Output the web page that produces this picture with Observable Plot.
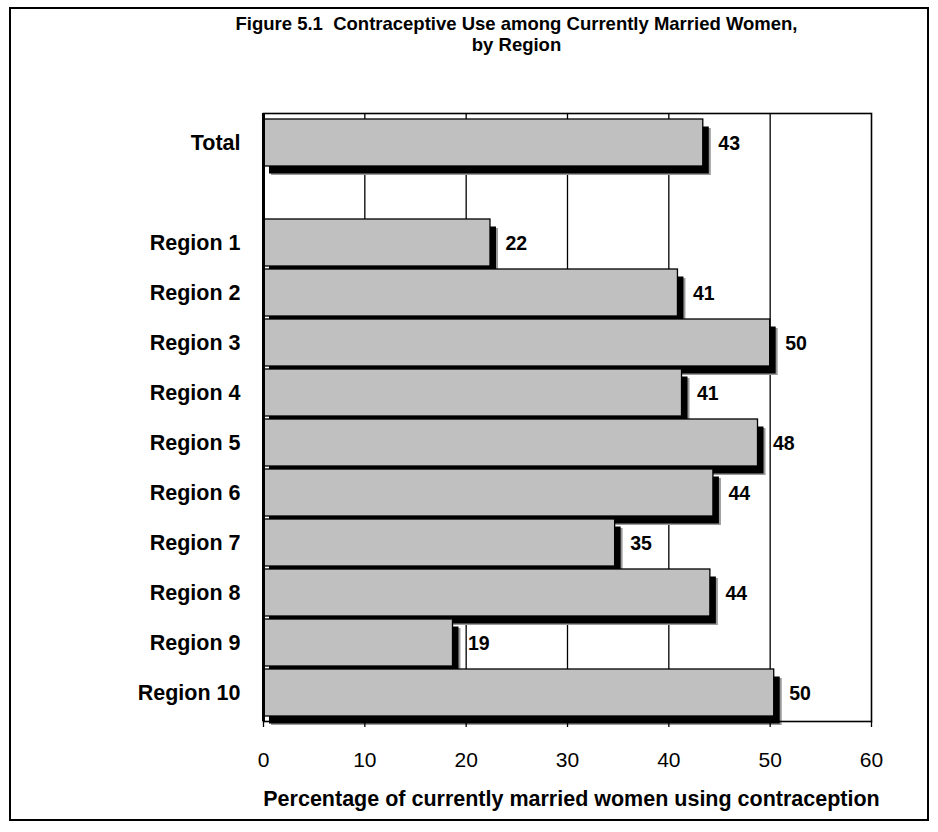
<!DOCTYPE html>
<html>
<head>
<meta charset="utf-8">
<script src="https://cdn.jsdelivr.net/npm/d3@7"></script>
<script src="https://cdn.jsdelivr.net/npm/@observablehq/plot@0.6"></script>
<style>
  html, body { margin: 0; padding: 0; background: white; }
  #wrap { position: relative; width: 938px; height: 832px; }
  #border { position: absolute; left: 9px; top: 7px; width: 920px; height: 814px; box-sizing: border-box; border: 2px solid black; pointer-events: none; }
</style>
</head>
<body>
<div id="wrap"><div id="border"></div></div>
<script>
const categories = ["Total", "Region 1", "Region 2", "Region 3", "Region 4", "Region 5", "Region 6", "Region 7", "Region 8", "Region 9", "Region 10"];
const values = [43.4, 22.4, 40.9, 50.0, 41.3, 48.8, 44.4, 34.7, 44.1, 18.7, 50.4];
const valueLabels = ["43", "22", "41", "50", "41", "48", "44", "35", "44", "19", "50"];
const yOrder = ["Total", " ", "Region 1", "Region 2", "Region 3", "Region 4", "Region 5", "Region 6", "Region 7", "Region 8", "Region 9", "Region 10"];
const xTicks = [0, 10, 20, 30, 40, 50, 60];
const gridValues = [10, 20, 30, 40, 50];
const titleText = "Figure 5.1  Contraceptive Use among Currently Married Women,\nby Region";
const xLabel = "Percentage of currently married women using contraception";

const data = categories.map((c, i) => ({cat: c, value: values[i], label: valueLabels[i]}));

const chart = Plot.plot({
  width: 938,
  height: 832,
  marginLeft: 263,
  marginRight: 67,
  marginTop: 113,
  marginBottom: 111,
  style: {fontFamily: "'Liberation Sans', Arial, sans-serif", fontSize: "16px", background: "transparent", color: "black"},
  x: {domain: [0, 60], ticks: xTicks, label: null},
  y: {domain: yOrder, paddingInner: 0.07, paddingOuter: 0.05, label: null},
  marks: [
    Plot.ruleX(gridValues, {stroke: "black", strokeWidth: 1.3}),
    Plot.barX(data, {x: "value", y: "cat", fill: "#9a9a9a", dx: 8, dy: 9}),
    Plot.barX(data, {x: "value", y: "cat", fill: "black", dx: 6, dy: 7.5}),
    Plot.barX(data, {x: "value", y: "cat", fill: "#c0c0c0", stroke: "black", strokeWidth: 1.3}),
    Plot.frame({stroke: "black", strokeWidth: 1.6}),
    Plot.ruleX([0], {stroke: "black", strokeWidth: 3}),
    Plot.axisX({ticks: xTicks, tickSize: 6, tickPadding: 25, fontSize: 21, label: null, stroke: "black", strokeWidth: 1.3}),
    Plot.axisY({tickSize: 0, tickPadding: 23, fontSize: 21.5, fontWeight: "bold", label: null}),
    Plot.text(data, {x: "value", y: "cat", text: "label", dx: 15, dy: 1, textAnchor: "start", fontSize: 19.5, fontWeight: "bold"}),
    Plot.text([titleText], {frameAnchor: "top", dx: -51, dy: -80, lineAnchor: "middle", lineHeight: 1.12, fontSize: 18.5, fontWeight: "bold", letterSpacing: "-0.35px"}),
    Plot.text([xLabel], {frameAnchor: "bottom", dx: 4, dy: 84, fontSize: 21.5, fontWeight: "bold"})
  ]
});
document.getElementById("wrap").appendChild(chart);
</script>
</body>
</html>
